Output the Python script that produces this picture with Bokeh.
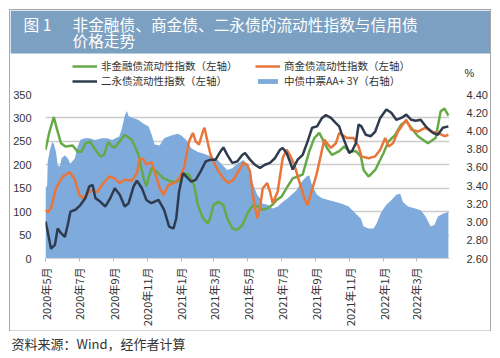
import math
import pandas as pd
from bokeh.plotting import figure
from bokeh.layouts import column
from bokeh.models import (Range1d, LinearAxis, FixedTicker, NumeralTickFormatter,
                          Legend, LegendItem, Label, BoxAnnotation, ColumnDataSource)
from bokeh.embed import file_html
from bokeh.resources import INLINE

# ---------------- data ----------------
green_dates = ["2020-05-01","2020-05-08","2020-05-16","2020-05-22","2020-05-29","2020-06-06","2020-06-19","2020-06-28","2020-07-05","2020-07-12",
               "2020-07-21","2020-07-30","2020-08-08","2020-08-15","2020-08-22","2020-08-29","2020-09-03","2020-09-21","2020-10-04","2020-10-16",
               "2020-10-25","2020-10-30","2020-11-08","2020-11-17","2020-11-30","2020-12-14","2020-12-26","2021-01-06","2021-01-15","2021-01-24",
               "2021-01-31","2021-02-09","2021-02-18","2021-02-23","2021-02-28","2021-03-09","2021-03-18","2021-03-25","2021-04-03","2021-04-12",
               "2021-04-21","2021-05-02","2021-05-11","2021-05-20","2021-05-28","2021-06-06","2021-06-14","2021-06-22","2021-07-01","2021-07-10",
               "2021-07-21","2021-07-30","2021-08-08","2021-08-20","2021-08-29","2021-09-07","2021-09-12","2021-09-21","2021-09-30","2021-10-13",
               "2021-10-22","2021-10-31","2021-11-12","2021-11-21","2021-11-26","2021-12-05","2021-12-17","2022-01-01","2022-01-10","2022-01-22",
               "2022-02-02","2022-02-11","2022-02-20","2022-03-04","2022-03-22","2022-04-05","2022-04-14","2022-04-21","2022-04-28"]
green_vals = [232,270,302,275,246,239,241,228,228,246,
              249,232,218,221,249,239,237,264,253,221,
              171,154,193,186,171,164,164,182,179,157,
              114,86,75,89,114,121,114,86,64,61,
              71,100,114,111,104,107,114,125,132,150,
              171,175,179,229,257,268,257,236,221,229,
              239,229,229,218,189,175,189,225,250,264,
              286,293,279,261,246,257,314,320,305]

orange_dates = ["2020-05-01","2020-05-05","2020-05-11","2020-05-20","2020-06-01","2020-06-14","2020-06-23","2020-07-01","2020-07-07","2020-07-16",
                "2020-07-25","2020-08-02","2020-08-11","2020-08-24","2020-09-03","2020-09-12","2020-09-21","2020-10-04","2020-10-13","2020-10-18",
                "2020-10-25","2020-10-30","2020-11-08","2020-11-14","2020-11-23","2020-11-30","2020-12-09","2020-12-19","2020-12-28","2021-01-06",
                "2021-01-15","2021-01-22","2021-01-27","2021-02-02","2021-02-09","2021-02-12","2021-02-18","2021-02-23","2021-02-28","2021-03-09",
                "2021-03-18","2021-03-27","2021-04-05","2021-04-14","2021-04-23","2021-04-30","2021-05-05","2021-05-11","2021-05-18","2021-05-23",
                "2021-05-28","2021-06-05","2021-06-10","2021-06-15","2021-06-24","2021-07-03","2021-07-10","2021-07-16","2021-07-24","2021-08-02",
                "2021-08-11","2021-08-17","2021-08-24","2021-09-02","2021-09-10","2021-09-16","2021-09-21","2021-09-28","2021-10-07","2021-10-13",
                "2021-10-18","2021-10-27","2021-11-08","2021-11-17","2021-11-22","2021-12-05","2021-12-17","2021-12-26","2022-01-04","2022-01-10",
                "2022-01-18","2022-01-27","2022-02-11","2022-02-20","2022-03-04","2022-03-17","2022-03-28","2022-04-09","2022-04-21","2022-04-28"]
orange_vals = [104,99,107,150,175,184,168,136,129,139,
               146,141,157,175,171,161,168,166,182,214,
               211,200,206,186,150,136,157,161,171,193,
               250,268,250,243,271,279,246,221,207,186,
               171,161,168,186,204,200,186,129,86,107,
               150,161,143,118,143,214,232,221,200,164,
               129,114,143,179,221,254,246,236,246,268,
               264,257,257,239,218,214,218,232,257,239,
               246,271,296,275,271,279,271,268,261,264]

navy_dates = ["2020-05-01","2020-05-05","2020-05-11","2020-05-18","2020-05-23","2020-05-29","2020-06-05","2020-06-10","2020-06-15","2020-06-24",
              "2020-07-03","2020-07-12","2020-07-19","2020-07-25","2020-07-30","2020-08-08","2020-08-17","2020-08-26","2020-09-03","2020-09-12",
              "2020-09-21","2020-09-28","2020-10-07","2020-10-13","2020-10-22","2020-10-30","2020-11-08","2020-11-21","2020-12-01","2020-12-10",
              "2020-12-18","2020-12-23","2020-12-28","2021-01-04","2021-01-10","2021-01-19","2021-01-27","2021-02-05","2021-02-14","2021-02-23",
              "2021-03-04","2021-03-13","2021-03-18","2021-03-25","2021-04-03","2021-04-12","2021-04-21","2021-04-26","2021-05-05","2021-05-14",
              "2021-05-23","2021-06-01","2021-06-10","2021-06-19","2021-06-28","2021-07-03","2021-07-10","2021-07-16","2021-07-21","2021-07-30",
              "2021-08-08","2021-08-17","2021-08-25","2021-09-03","2021-09-12","2021-09-19","2021-09-28","2021-10-07","2021-10-13","2021-10-18",
              "2021-10-25","2021-10-31","2021-11-05","2021-11-12","2021-11-17","2021-11-22","2021-11-30","2021-12-09","2021-12-17","2021-12-26",
              "2022-01-06","2022-01-15","2022-01-24","2022-02-02","2022-02-11","2022-02-20","2022-02-28","2022-03-09","2022-03-18","2022-03-31",
              "2022-04-09","2022-04-18","2022-04-28"]
navy_vals = [79,57,21,29,64,54,46,71,100,104,
             114,129,154,157,129,121,111,129,150,136,
             111,118,154,166,150,125,118,125,104,68,
             64,86,143,182,175,164,168,186,207,211,
             211,229,237,221,204,207,221,225,211,200,
             193,200,204,214,232,236,225,207,190,211,
             221,250,279,282,300,306,300,289,282,264,
             243,225,229,246,286,282,264,261,271,300,
             318,311,296,300,307,296,294,296,282,268,
             264,279,282]

area_dates = ["2020-05-01","2020-05-04","2020-05-05","2020-05-09","2020-05-13","2020-05-16","2020-05-20","2020-05-23","2020-05-27","2020-05-30",
              "2020-06-05","2020-06-10","2020-06-15","2020-06-23","2020-06-28","2020-07-03","2020-07-10","2020-07-19","2020-07-30","2020-08-11",
              "2020-08-20","2020-08-29","2020-09-11","2020-09-16","2020-09-21","2020-09-25","2020-09-28","2020-10-07","2020-10-16","2020-10-25",
              "2020-11-03","2020-11-08","2020-11-14","2020-11-23","2020-12-01","2020-12-14","2020-12-26","2021-01-01","2021-01-10","2021-01-19",
              "2021-01-31","2021-02-11","2021-02-23","2021-03-08","2021-03-17","2021-03-25","2021-04-03","2021-04-12","2021-04-23","2021-05-02",
              "2021-05-09","2021-05-18","2021-05-23","2021-05-28","2021-06-06","2021-06-15","2021-06-24","2021-07-03","2021-07-12","2021-07-21",
              "2021-07-28","2021-08-06","2021-08-15","2021-08-20","2021-08-25","2021-09-03","2021-09-12","2021-09-25","2021-10-07","2021-10-18",
              "2021-10-30","2021-11-12","2021-11-21","2021-11-26","2021-12-05","2021-12-14","2021-12-19","2021-12-28","2022-01-06","2022-01-15",
              "2022-01-24","2022-01-31","2022-02-05","2022-02-14","2022-02-27","2022-03-09","2022-03-18","2022-03-27","2022-04-03","2022-04-09",
              "2022-04-18","2022-04-28"]
area_vals = [3.37,3.40,3.66,3.79,3.88,3.86,3.77,3.62,3.61,3.70,
             3.73,3.70,3.64,3.70,3.83,3.90,3.92,3.92,3.90,3.92,
             3.92,3.90,3.94,4.03,4.17,4.22,4.16,4.14,4.12,4.08,
             4.05,3.97,3.85,3.84,3.92,3.95,3.97,3.95,3.90,3.81,
             3.77,3.75,3.72,3.68,3.62,3.57,3.59,3.64,3.68,3.62,
             3.44,3.30,3.26,3.20,3.19,3.15,3.17,3.22,3.26,3.31,
             3.35,3.44,3.50,3.51,3.40,3.30,3.26,3.24,3.22,3.20,
             3.17,3.09,3.04,2.95,2.93,2.93,2.98,3.11,3.19,3.24,
             3.30,3.31,3.22,3.17,3.15,3.13,3.06,2.95,2.97,3.06,
             3.09,3.11]

tick_dates = ["2020-05-01","2020-07-01","2020-09-01","2020-11-01","2021-01-01","2021-03-01",
              "2021-05-01","2021-07-01","2021-09-01","2021-11-01","2022-01-01","2022-03-01"]
tick_labels = ["2020年5月","2020年7月","2020年9月","2020年11月","2021年1月","2021年3月",
               "2021年5月","2021年7月","2021年9月","2021年11月","2022年1月","2022年3月"]
left_ticks = [0, 50, 100, 150, 200, 250, 300, 350]
right_ticks = [2.6, 2.8, 3.0, 3.2, 3.4, 3.6, 3.8, 4.0, 4.2, 4.4]

series_names = ["非金融债流动性指数（左轴）", "二永债流动性指数（左轴）",
                "商金债流动性指数（左轴）", "中债中票AA+ 3Y（右轴）"]
title_num = "图 1"
title_line1 = "非金融债、商金债、二永债的流动性指数与信用债"
title_line2 = "价格走势"
right_unit = "%"
source_text = "资料来源：Wind，经作者计算"

# ---------------- styles ----------------
CJK = "Noto Sans CJK SC"
NUM = "Liberation Sans"
GREEN = "#66A947"
ORANGE = "#E8763A"
NAVY = "#2F3B4F"
BLUE = "#7EABDB"
BAR = "#7BA0C1"
TXT = "#333333"
W = 480
NAN = float("nan")


def no_align(f):
    if "frame_align" in f.properties():
        f.frame_align = False


def blank_fig(h):
    f = figure(width=W, height=h, x_range=Range1d(0, W), y_range=Range1d(h, 0),
               output_backend="svg", toolbar_location=None,
               x_axis_location=None, y_axis_location=None,
               min_border=0, min_border_left=0, min_border_right=0,
               min_border_top=0, min_border_bottom=0)
    f.grid.visible = False
    f.outline_line_color = None
    f.background_fill_color = "white"
    f.border_fill_color = "white"
    no_align(f)
    return f


# ---------------- header: title bar + legend ----------------
TOP_H = 78
top = blank_fig(TOP_H)
top.add_layout(BoxAnnotation(left=0, right=W, top=0, bottom=43, fill_color=BAR,
                             fill_alpha=1, line_color=None))
for txt, x, y in [(title_num, 13, 13.5), (title_line1, 62, 13.5), (title_line2, 62, 29.5)]:
    top.add_layout(Label(x=x, y=y, text=txt, text_color="white", text_font=CJK,
                         text_font_size="15.7px", text_baseline="middle", text_align="left"))
top.add_layout(Label(x=454, y=62, text=right_unit, text_color=TXT, text_font=NUM,
                     text_font_size="11px", text_baseline="middle"))

# legend sample renderers (no visible data) that carry the series styles
dg = top.line(x=[NAN], y=[NAN], line_color=GREEN, line_width=2.5)
dn = top.line(x=[NAN], y=[NAN], line_color=NAVY, line_width=2.5)
do = top.line(x=[NAN], y=[NAN], line_color=ORANGE, line_width=2.5)
da = top.varea(x=[NAN], y1=[NAN], y2=[NAN], fill_color=BLUE)


def style_legend(lg):
    lg.border_line_color = None
    lg.background_fill_alpha = 0
    lg.padding = 0
    lg.margin = 0
    lg.spacing = -5
    lg.glyph_width = 25
    lg.glyph_height = 6
    lg.label_standoff = 4
    lg.label_height = 12
    lg.label_text_font = CJK
    lg.label_text_font_size = "10.5px"
    lg.label_text_color = TXT


leg1 = Legend(items=[LegendItem(label=series_names[0], renderers=[dg]),
                     LegendItem(label=series_names[1], renderers=[dn])],
              location=(62, 0))
leg2 = Legend(items=[LegendItem(label=series_names[2], renderers=[do]),
                     LegendItem(label=series_names[3], renderers=[da])],
              location=(245, 0))
style_legend(leg1)
style_legend(leg2)
top.add_layout(leg1)
top.add_layout(leg2)

# ---------------- main chart ----------------
x_start = pd.Timestamp("2020-05-01")
x_end = pd.Timestamp("2022-04-30")

p = figure(width=W, height=242, x_axis_type="datetime",
           x_range=Range1d(x_start, x_end), y_range=Range1d(0, 350),
           output_backend="svg", toolbar_location=None,
           min_border_left=32, min_border_right=38, min_border_top=6, min_border_bottom=72)
no_align(p)
p.extra_y_ranges = {"right": Range1d(2.6, 4.4)}
p.outline_line_color = None
p.background_fill_color = "white"
p.border_fill_color = "white"

src_area = ColumnDataSource(dict(x=pd.to_datetime(area_dates), y=area_vals))
src_g = ColumnDataSource(dict(x=pd.to_datetime(green_dates), y=green_vals))
src_o = ColumnDataSource(dict(x=pd.to_datetime(orange_dates), y=orange_vals))
src_n = ColumnDataSource(dict(x=pd.to_datetime(navy_dates), y=navy_vals))

p.varea(x="x", y1=right_ticks[0], y2="y", source=src_area, fill_color=BLUE, y_range_name="right")
p.line("x", "y", source=src_g, line_color=GREEN, line_width=2.5)
p.line("x", "y", source=src_o, line_color=ORANGE, line_width=2.5)
p.line("x", "y", source=src_n, line_color=NAVY, line_width=2.5)

tick_ms = [int(pd.Timestamp(d).value // 10**6) for d in tick_dates]
xa = p.xaxis[0]
xa.ticker = FixedTicker(ticks=tick_ms)
xa.major_label_overrides = {t: lab for t, lab in zip(tick_ms, tick_labels)}
xa.major_label_orientation = math.pi / 2
xa.major_label_text_font = CJK
xa.major_label_text_font_size = "11px"
xa.major_label_text_color = TXT
xa.axis_line_color = "#D6D6D6"
xa.major_tick_line_color = "#BBBBBB"
xa.major_tick_in = 0
xa.major_tick_out = 3
xa.minor_tick_out = 0
xa.minor_tick_in = 0
xa.major_label_standoff = 6

ya = p.yaxis[0]
ya.ticker = FixedTicker(ticks=left_ticks)
ya.axis_line_color = None
ya.major_tick_line_color = None
ya.minor_tick_line_color = None
ya.major_label_text_font = NUM
ya.major_label_text_font_size = "11px"
ya.major_label_text_color = TXT
ya.major_label_standoff = 8

yr = LinearAxis(y_range_name="right", ticker=FixedTicker(ticks=right_ticks),
                formatter=NumeralTickFormatter(format="0.00"))
yr.axis_line_color = None
yr.major_tick_line_color = None
yr.minor_tick_line_color = None
yr.major_label_text_font = NUM
yr.major_label_text_font_size = "11px"
yr.major_label_text_color = TXT
yr.major_label_standoff = 11
p.add_layout(yr, "right")

p.xgrid.visible = False
p.ygrid.ticker = FixedTicker(ticks=left_ticks)
p.ygrid.grid_line_color = "#CCCCCC"
p.ygrid.grid_line_width = 1.5

# ---------------- footer: source ----------------
BOT_H = 26
bot = blank_fig(BOT_H)
bot.add_layout(Label(x=1, y=13, text=source_text, text_color=TXT, text_font=CJK,
                     text_font_size="13px", text_baseline="middle", text_align="left"))

boxed = column(column(top), column(p), spacing=0,
               styles={"box-shadow": "0 0 0 1px #A8A8A8"})
page = column(boxed, bot, spacing=0, margin=(10, 0, 0, 10))

open("out.html", "w").write(file_html(page, INLINE))
